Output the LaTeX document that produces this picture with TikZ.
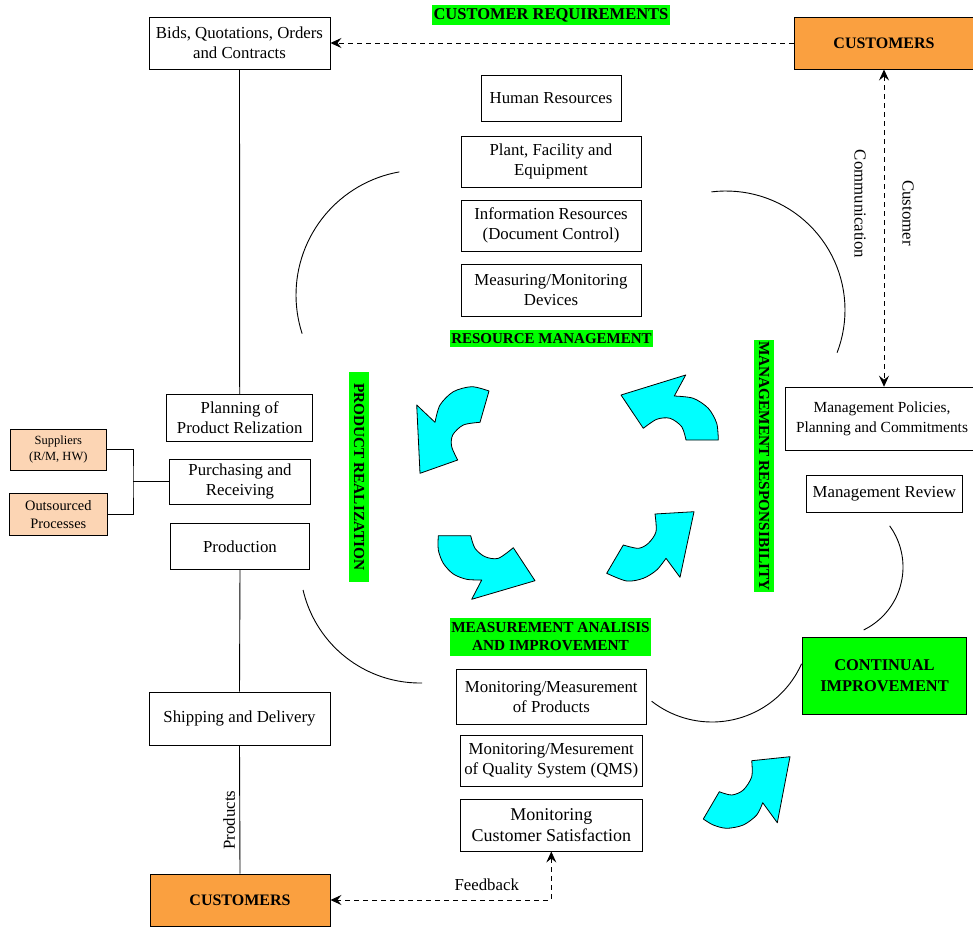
\documentclass[tikz,border=0pt]{standalone}
\usepackage{fontspec}
\setmainfont{Liberation Serif}
\usetikzlibrary{arrows.meta}
\definecolor{lgreen}{RGB}{0,255,0}
\definecolor{cyanA}{RGB}{0,255,255}
\definecolor{orangeC}{RGB}{250,160,64}
\definecolor{peach}{RGB}{252,213,180}
\begin{document}
\begin{tikzpicture}[x=1pt,y=-1pt,
 box/.style={draw, line width=0.9pt, fill=white, align=center, inner sep=0pt, font=\fontsize{16.8}{19.5}\selectfont},
 obox/.style={box, fill=orangeC, font=\fontsize{16}{18}\selectfont\bfseries},
 pbox/.style={box, fill=peach},
 glab/.style={fill=lgreen, inner sep=0pt, align=center, font=\fontsize{15.3}{18}\selectfont\bfseries},
 plainlab/.style={font=\fontsize{16.8}{19.5}\selectfont},
 conn/.style={line width=0.9pt},
 dconn/.style={line width=0.9pt, dash pattern=on 5pt off 4pt},
 arrowhd/.style={-{Stealth[length=11pt,width=10pt,inset=4pt]}},
 darrowhd/.style={{Stealth[length=11pt,width=10pt,inset=4pt]}-{Stealth[length=11pt,width=10pt,inset=4pt]}},
 cyarrow/.style={fill=cyanA, draw=black, line width=0.8pt, line join=round},
 thinarc/.style={line width=0.9pt, samples=40}
]
\useasboundingbox (0,0) rectangle (973,926);

% arcs
\draw[thinarc] plot[domain=260:162] ({421+125*cos(\x)},{295+125*sin(\x)});
\draw[thinarc] plot[domain=-97:21] ({726+119*cos(\x)},{310+119*sin(\x)});
\draw[thinarc] plot[domain=167:89] ({420+120*cos(\x)},{563+120*sin(\x)});
\draw[thinarc] plot[domain=-36:64] ({833+70*cos(\x)},{567+70*sin(\x)});
\draw[thinarc] plot[domain=128:24] ({712+98*cos(\x)},{624+98*sin(\x)});

% cyan arrows
\draw[cyarrow] (489,391) -- (480,422.3) -- plot[smooth] coordinates {(480,422.3) (463.3,425) (452.7,435) (451.7,446.7) (457.7,460)} -- (420,473.3) -- (416.7,405) -- (435,422.3) -- plot[smooth] coordinates {(435,422.3) (440,405) (453.3,391.7) (471.7,386.7) (489,391)} -- cycle;
\draw[cyarrow] (718.3,440) -- (686,440) -- plot[smooth] coordinates {(686,440) (681.7,426.7) (670,418.3) (656.7,419.3) (643.3,428.3)} -- (621,395) -- (685.7,375) -- (674.3,396) -- plot[smooth] coordinates {(674.3,396) (693.3,398.3) (708.3,408.3) (716.7,423.3) (718.3,440)} -- cycle;
\draw[cyarrow] (606.7,573.3) -- (623.3,545) -- plot[smooth] coordinates {(623.3,545) (638.3,548.3) (648.3,543.3) (656,531.7) (655,514)} -- (694,511.7) -- (680,577.3) -- (666,558.3) -- plot[smooth] coordinates {(666,558.3) (656.7,570) (643.3,578.3) (626.7,581) (606.7,573.3)} -- cycle;
\draw[cyarrow] (438.3,535.7) -- (470.7,535.7) -- plot[smooth] coordinates {(470.7,535.7) (475,548.3) (485,556.7) (498.3,558.3) (513.3,547.7)} -- (535,580.7) -- (471.7,599.3) -- (481.7,580) -- plot[smooth] coordinates {(481.7,580) (466.7,579.3) (453.3,574) (443.3,563.3) (438.3,550) (438.3,535.7)} -- cycle;
\draw[cyarrow] (703.3,819) -- (719.3,791.7) -- plot[smooth] coordinates {(719.3,791.7) (731.7,795) (743.3,790) (751.7,776.7) (751.7,760.7)} -- (790,756.7) -- (777.3,822.7) -- (762.7,802.7) -- plot[smooth] coordinates {(762.7,802.7) (756.7,815) (743.3,825) (726.7,828.3) (713.3,825) (703.3,819)} -- cycle;

% green labels
\node[glab, minimum width=238pt, minimum height=20pt, font=\fontsize{16.5}{18}\selectfont\bfseries] (custreq) at (551,15) {CUSTOMER REQUIREMENTS};
\node[glab, minimum width=203pt, minimum height=17pt, font=\fontsize{15}{17}\selectfont\bfseries] (resmgmt) at (551.5,338.5) {RESOURCE MANAGEMENT};
\node[glab, minimum width=201pt, minimum height=38pt, font=\fontsize{15.3}{17.5}\selectfont\bfseries] (measai) at (550.5,636.5) {MEASUREMENT ANALISIS\\AND IMPROVEMENT};
\node[glab, rotate=-90, minimum width=210pt, minimum height=20pt] (prodreal) at (359,476.7) {PRODUCT REALIZATION};
\node[glab, rotate=-90, minimum width=252pt, minimum height=20pt] (mgmtresp) at (764,466) {MANAGEMENT RESPONSIBILITY};

% left column
\node[box, minimum width=181pt, minimum height=52pt] (bids) at (239.5,43) {Bids, Quotations, Orders\\and Contracts};
\node[box, minimum width=146pt, minimum height=47pt] (plan) at (239.7,417.7) {Planning of\\Product Relization};
\node[box, minimum width=141.7pt, minimum height=44.7pt] (purch) at (240,481.7) {Purchasing and\\Receiving};
\node[box, minimum width=138.6pt, minimum height=46pt] (prod) at (240,546.3) {Production};
\node[pbox, minimum width=95.3pt, minimum height=40.7pt, font=\fontsize{12.5}{16}\selectfont] (sup) at (58.3,449.7) {Suppliers\\(R/M, HW)};
\node[pbox, minimum width=98pt, minimum height=41.7pt, font=\fontsize{14.4}{18}\selectfont] (outs) at (58.3,514.2) {Outsourced\\Processes};
\node[box, minimum width=181pt, minimum height=53pt] (ship) at (239.5,718.5) {Shipping and Delivery};
\node[obox, minimum width=180pt, minimum height=52pt] (custbot) at (240,900) {CUSTOMERS};

% center column
\node[box, minimum width=140pt, minimum height=46pt] (hr) at (551,98) {Human Resources};
\node[box, minimum width=180pt, minimum height=51pt] (plant) at (551,161.5) {Plant, Facility and\\Equipment};
\node[box, minimum width=180pt, minimum height=51pt] (info) at (551,225.5) {Information Resources\\(Document Control)};
\node[box, minimum width=180pt, minimum height=52pt] (mdev) at (551,290) {Measuring/Monitoring\\Devices};
\node[box, minimum width=190.7pt, minimum height=55pt] (mprod) at (551.3,696.8) {Monitoring/Measurement\\of Products};
\node[box, minimum width=181.3pt, minimum height=51.7pt] (mqms) at (551.3,760.8) {Monitoring/Mesurement\\of Quality System (QMS)};
\node[box, minimum width=181.3pt, minimum height=51.7pt, font=\fontsize{18}{20.7}\selectfont] (mcs) at (551.3,825.2) {Monitoring\\Customer Satisfaction};

% right column
\node[obox, minimum width=180pt, minimum height=52pt] (custtop) at (884,43) {CUSTOMERS};
\node[box, minimum width=193pt, minimum height=63pt, font=\fontsize{15.4}{19.5}\selectfont] (mpol) at (882,418.7) {Management Policies,\\Planning and Commitments};
\node[box, minimum width=156.7pt, minimum height=37.7pt] (mrev) at (884.3,493.8) {Management Review};
\node[box, fill=lgreen, minimum width=164.4pt, minimum height=77pt, font=\fontsize{16.4}{21.5}\selectfont\bfseries] (ci) at (884.5,675.8) {CONTINUAL\\IMPROVEMENT};

% connectors
\draw[conn] (bids.south) -- (plan.north);
\draw[conn] (prod.south) -- (ship.north);
\draw[conn] (ship.south) -- (custbot.north);
\node[plainlab, rotate=90] (prodlab) at (229,820) {Products};
\coordinate (junc) at (133,481.7);
\draw[conn] (sup.east) -| (junc) |- (outs.east);
\draw[conn] (junc) -- (purch.west);
\draw[dconn, arrowhd] (custtop.west) -- (bids.east);
\draw[dconn, darrowhd] (custtop.south) -- (custtop.south |- mpol.north);
\coordinate (fbc) at (mcs.south |- custbot.east);
\draw[dconn, darrowhd] (mcs.south) -- (fbc) -- (custbot.east);
\node[plainlab] (fblab) at (486.7,885) {Feedback};
\node[plainlab, rotate=-90] (cuslab) at (908,213) {Customer};
\node[plainlab, rotate=-90] (comlab) at (860,204) {Communication};
\end{tikzpicture}
\end{document}
